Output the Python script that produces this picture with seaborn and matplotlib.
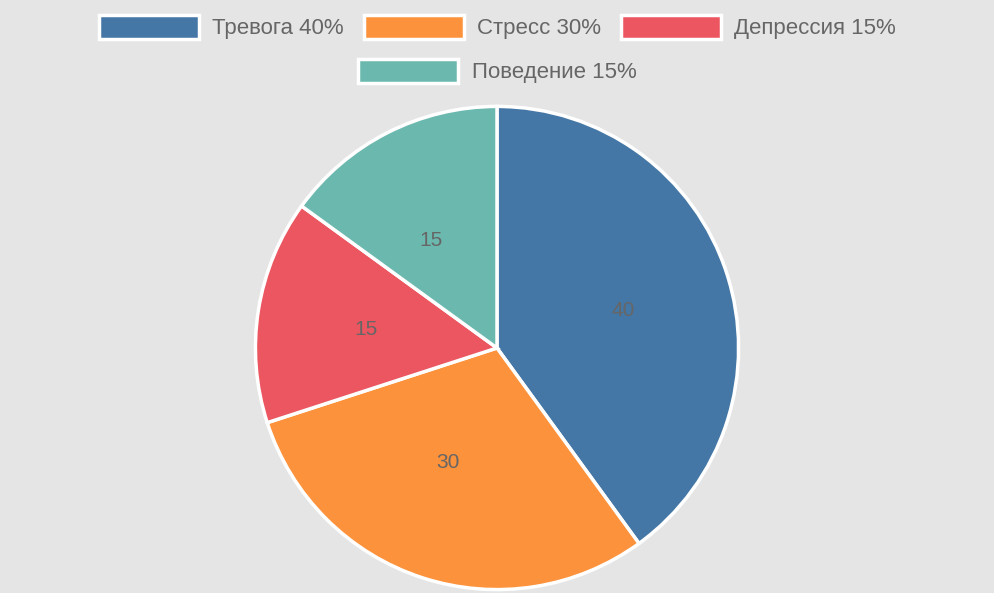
import matplotlib
matplotlib.use("Agg")
import matplotlib.pyplot as plt
import matplotlib.patches as mpatches
import seaborn as sns

categories = ["Тревога", "Стресс", "Депрессия", "Поведение"]
values = [40, 30, 15, 15]
colors = ["#4477a5", "#fd923c", "#ec5660", "#6bb8af"]

sns.set_theme(style="white")
plt.rcParams["font.family"] = ["Liberation Sans", "DejaVu Sans"]

fig = plt.figure(figsize=(9.95, 5.93), dpi=100)
fig.patch.set_facecolor("#e5e5e5")
ax = fig.add_axes([(497 - 244) / 995, 1 / 593, 488 / 995, 488 / 593])
ax.set_facecolor("#e5e5e5")

wedges, texts = ax.pie(
    values, colors=colors, startangle=90, counterclock=False,
    labels=[str(v) for v in values], labeldistance=0.5,
    wedgeprops=dict(edgecolor="white", linewidth=2.5),
    textprops=dict(color="#666666", fontsize=15),
)
ax.set_xlim(-1.01, 1.01)
ax.set_ylim(-1.01, 1.01)
ax.set_aspect("equal")

handles = [mpatches.Patch(facecolor=c, edgecolor="white", linewidth=2.5) for c in colors]
labels = [f"{c} {v}%" for c, v in zip(categories, values)]
common = dict(frameon=False, fontsize=16, handlelength=4.5, handleheight=1.3,
              columnspacing=0.9, handletextpad=0.6, labelcolor="#666666")
fig.legend(handles[:3], labels[:3], ncol=3, loc="center",
           bbox_to_anchor=(0.5, 1 - 27 / 593), **common)
fig.legend(handles[3:], labels[3:], ncol=1, loc="center",
           bbox_to_anchor=(0.5, 1 - 71 / 593), **common)

fig.savefig("out.png", dpi=100, facecolor=fig.get_facecolor())
